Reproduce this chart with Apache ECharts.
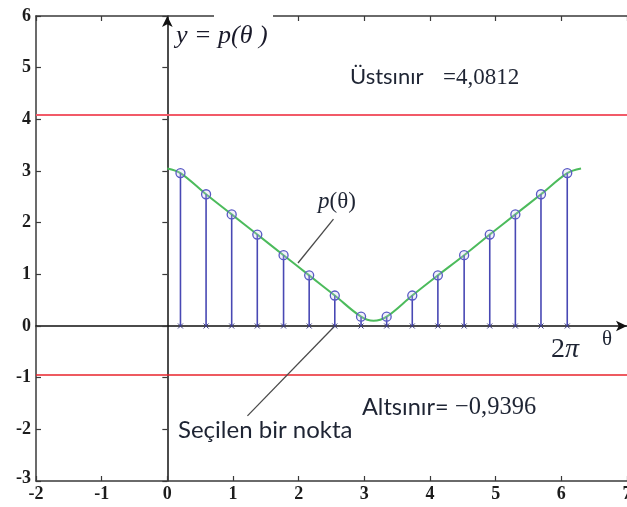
<!DOCTYPE html>
<html>
<head>
<meta charset="utf-8">
<script src="https://cdn.jsdelivr.net/npm/echarts@6/dist/echarts.min.js"></script>
<style>
  html, body { margin: 0; padding: 0; background: #ffffff; overflow: hidden; }
  #chart { position: absolute; left: 0; top: 0; width: 627px; height: 507px; }
</style>
</head>
<body>
<div id="chart"></div>
<script>
// Sampled points of p(θ): angle and value at each stem
const sampleTheta = [0.20, 0.59, 0.98, 1.37, 1.77, 2.16, 2.55, 2.95, 3.34, 3.73, 4.12, 4.52, 4.91, 5.30, 5.69, 6.09];
const sampleValue = [2.96, 2.55, 2.16, 1.77, 1.37, 0.98, 0.59, 0.18, 0.18, 0.59, 0.98, 1.37, 1.77, 2.16, 2.55, 2.96];

// Continuous curve p(θ) over one period
const curveTheta = [0.00, 0.20, 0.59, 0.98, 1.37, 1.77, 2.16, 2.55, 2.95, 3.14, 3.34, 3.73, 4.12, 4.52, 4.91, 5.30, 5.69, 6.09, 6.30];
const curveValue = [3.05, 2.96, 2.55, 2.16, 1.77, 1.37, 0.98, 0.59, 0.18, 0.10, 0.18, 0.59, 0.98, 1.37, 1.77, 2.16, 2.55, 2.96, 3.05];

// Control limits
const upperLimit = 4.0812;
const lowerLimit = -0.9396;

// Axis ranges and tick labels
const xRange = [-2, 7];
const yRange = [-3, 6];
const xTicks = [-2, -1, 0, 1, 2, 3, 4, 5, 6, 7];
const yTicks = [-3, -2, -1, 0, 1, 2, 3, 4, 5, 6];

const chart = echarts.init(document.getElementById('chart'), null, { renderer: 'canvas', width: 627, height: 507 });

const frameColor = '#3a3a3a';
const tickFont = 'bold 18px "Liberation Serif"';
const tickColor = '#1c1c1c';
const sansFont = 'Lato';
const noteColor = '#1e2433';

function frameAxis(extra) {
  return Object.assign({
    type: 'value', min: 0, max: 0, interval: 1,
    splitLine: { show: false },
    axisLine: { show: true, onZero: false, lineStyle: { color: frameColor, width: 1.5 } },
    axisTick: { show: true, inside: true, length: 5, lineStyle: { color: frameColor, width: 1.2 } },
    axisLabel: { show: false }
  }, extra);
}

const option = {
  animation: false,
  backgroundColor: '#ffffff',
  grid: { left: 36, top: 16, right: 0, bottom: 26, containLabel: false, outerBoundsMode: 'none' },
  xAxis: [
    frameAxis({ min: xRange[0], max: xRange[1], position: 'bottom' }),
    frameAxis({ min: xRange[0], max: xRange[1], position: 'top' }),
    {
      type: 'value', min: xRange[0], max: xRange[1], interval: 1, position: 'bottom',
      splitLine: { show: false }, axisTick: { show: false }, axisLabel: { show: false },
      axisLine: { show: true, onZero: true, onZeroAxisIndex: 0, symbol: ['none', 'arrow'], symbolSize: [8, 11],
        lineStyle: { color: '#111', width: 1.5 } }
    }
  ],
  yAxis: [
    frameAxis({ min: yRange[0], max: yRange[1], position: 'left' }),
    frameAxis({ min: yRange[0], max: yRange[1], position: 'right', axisLine: { show: false } }),
    {
      type: 'value', min: yRange[0], max: yRange[1], interval: 1, position: 'left',
      splitLine: { show: false }, axisTick: { show: false }, axisLabel: { show: false },
      axisLine: { show: true, onZero: true, onZeroAxisIndex: 0, symbol: ['none', 'arrow'], symbolSize: [8, 11],
        lineStyle: { color: '#111', width: 1.5 } }
    }
  ],
  series: [
    {
      // control limits and annotation leaders
      type: 'line', data: [], xAxisIndex: 0, yAxisIndex: 0, z: 3,
      markLine: {
        silent: true, symbol: ['none', 'none'], animation: false,
        label: { show: false },
        data: [
          { yAxis: upperLimit, lineStyle: { color: '#f25a68', width: 2.2, type: 'solid' } },
          { yAxis: lowerLimit, lineStyle: { color: '#e8232b', width: 1.6, type: 'solid' } },
          [
            { coord: [2.53, 2.07], lineStyle: { color: '#4a4a4a', width: 1.3, type: 'solid' } },
            { coord: [1.99, 1.22] }
          ],
          [
            { coord: [1.22, -1.74], lineStyle: { color: '#4a4a4a', width: 1.3, type: 'solid' } },
            { coord: [sampleTheta[6], 0] }
          ]
        ]
      }
    },
    {
      name: 'p(θ)',
      type: 'line', xAxisIndex: 0, yAxisIndex: 0, z: 4,
      data: curveTheta.map((t, i) => [t, curveValue[i]]),
      smooth: 0.35, showSymbol: false,
      lineStyle: { color: '#4cbb5c', width: 2 }
    },
    {
      // stems with a cross at the base and a ring at the sampled value
      type: 'custom', xAxisIndex: 0, yAxisIndex: 0, z: 5,
      data: sampleTheta.map((t, i) => [t, sampleValue[i]]),
      renderItem: function (params, api) {
        const base = api.coord([api.value(0), 0]);
        const top = api.coord([api.value(0), api.value(1)]);
        const s = 2.5;
        return {
          type: 'group',
          children: [
            { type: 'line', shape: { x1: base[0], y1: base[1], x2: top[0], y2: top[1] },
              style: { stroke: '#4848b4', lineWidth: 1.6 } },
            { type: 'line', shape: { x1: base[0] - s, y1: base[1] - s, x2: base[0] + s, y2: base[1] + s },
              style: { stroke: '#3a3a80', lineWidth: 1 } },
            { type: 'line', shape: { x1: base[0] - s, y1: base[1] + s, x2: base[0] + s, y2: base[1] - s },
              style: { stroke: '#3a3a80', lineWidth: 1 } },
            { type: 'circle', shape: { cx: top[0], cy: top[1], r: 4.5 },
              style: { fill: 'rgba(200,200,240,0.25)', stroke: '#5858c4', lineWidth: 1.3 } }
          ]
        };
      }
    },
    {
      // x tick labels below the frame
      type: 'custom', xAxisIndex: 0, yAxisIndex: 0, z: 6, clip: false,
      data: xTicks.map(v => [v]),
      renderItem: function (params, api) {
        const p = api.coord([api.value(0), yRange[0]]);
        return { type: 'text', x: p[0], y: p[1] + 4,
          style: { text: String(api.value(0)), font: tickFont, fill: tickColor, align: 'center', verticalAlign: 'top' } };
      }
    },
    {
      // y tick labels left of the frame
      type: 'custom', xAxisIndex: 0, yAxisIndex: 0, z: 6, clip: false,
      data: yTicks.map(v => [v]),
      renderItem: function (params, api) {
        const p = api.coord([xRange[0], api.value(0)]);
        return { type: 'text', x: p[0] - 5, y: p[1] - (api.value(0) === yRange[0] ? 3 : 0),
          style: { text: String(api.value(0)), font: tickFont, fill: tickColor, align: 'right', verticalAlign: 'middle' } };
      }
    }
  ],
  graphic: [
    // break in the top frame behind the axis title
    { type: 'rect', shape: { x: 214, y: 10, width: 59, height: 12 }, style: { fill: '#ffffff' }, z: 100 },
    { type: 'text', left: 176, top: 23, z: 101,
      style: { text: 'y = p(θ )', font: 'italic 26px "Liberation Serif"', fill: '#1a1a2a' } },
    { type: 'text', left: 350, top: 66, z: 101,
      style: { text: 'Üstsınır', font: '22px ' + sansFont, fill: noteColor } },
    { type: 'text', left: 443, top: 66, z: 101,
      style: { text: '=4,0812', font: '23px "Liberation Serif"', fill: noteColor } },
    { type: 'text', left: 362, top: 395, z: 101,
      style: { text: 'Altsınır=', font: '23.5px ' + sansFont, fill: noteColor } },
    { type: 'text', left: 455, top: 395, z: 101,
      style: { text: '−0,9396', font: '24.5px "Liberation Serif"', fill: noteColor } },
    { type: 'text', left: 178, top: 418, z: 101,
      style: { text: 'Seçilen bir nokta', font: '24px ' + sansFont, fill: noteColor } },
    { type: 'text', left: 318, top: 190, z: 101,
      style: { rich: { i: { font: 'italic 23px "Liberation Serif"', fill: noteColor }, n: { font: '23px "Liberation Serif"', fill: noteColor } },
               text: '{i|p}{n|(θ)}' } },
    { type: 'text', left: 551, top: 336, z: 101,
      style: { rich: { n: { font: '28px "Liberation Serif"', fill: noteColor }, i: { font: 'italic 28px "Liberation Serif"', fill: noteColor } },
               text: '{n|2}{i|π}' } },
    { type: 'text', left: 602, top: 329, z: 101,
      style: { text: 'θ', font: '21px "Liberation Serif"', fill: noteColor } }
  ]
};

chart.setOption(option);
</script>
</body>
</html>
